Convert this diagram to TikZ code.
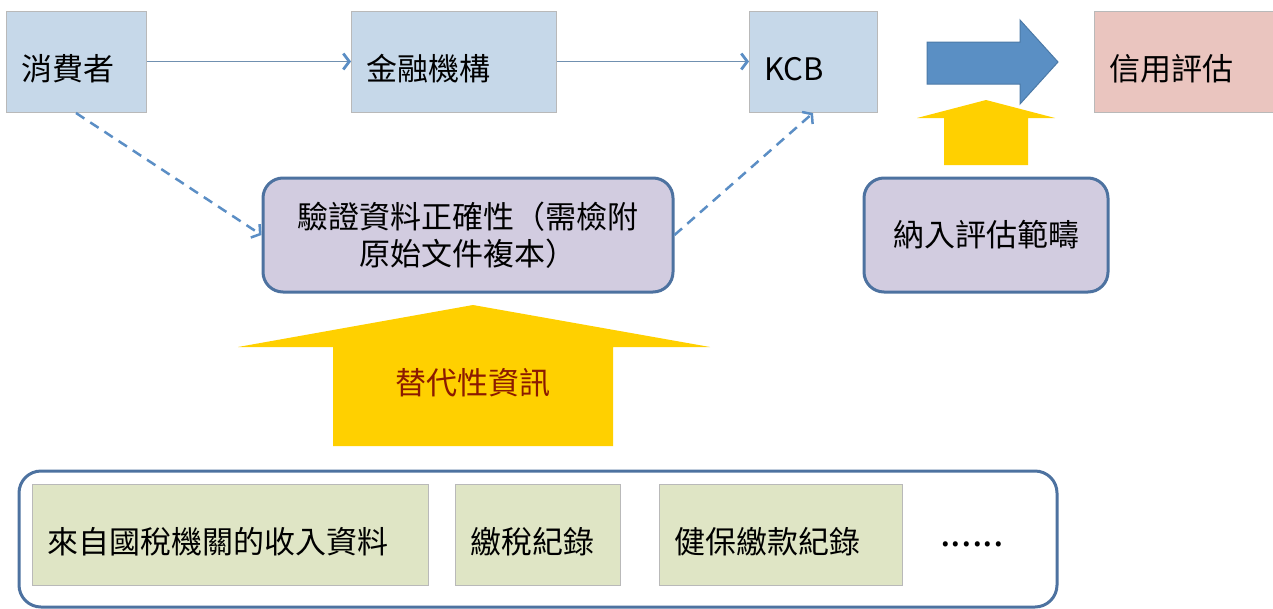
\documentclass[tikz,border=0pt]{standalone}
\usepackage{fontspec}
\newfontfamily\cjk{Noto Sans CJK TC}
\usetikzlibrary{arrows.meta}
\definecolor{topblue}{HTML}{C6D8E9}
\definecolor{pinkbox}{HTML}{EAC5BF}
\definecolor{lav}{HTML}{D2CCE0}
\definecolor{lavborder}{HTML}{4D72A0}
\definecolor{greenbox}{HTML}{DFE5C5}
\definecolor{arryellow}{HTML}{FFD000}
\definecolor{arrblue}{HTML}{5A8FC4}
\definecolor{conblue}{HTML}{5B8EC5}
\definecolor{conline}{HTML}{7090B0}
\definecolor{darkred}{HTML}{8B1A00}
\begin{document}
\begin{tikzpicture}[x=1pt,y=-1pt,
  every node/.style={font=\cjk\fontsize{31}{37}\selectfont},
  tbox/.style={draw=gray!55, line width=0.8pt, fill=topblue, minimum height=101pt, inner xsep=15pt, text height=43pt, text depth=4.5pt, align=left, anchor=west},
  rbox/.style={draw=lavborder, line width=3pt, fill=lav, rounded corners=20pt, align=center},
  gbox/.style={draw=gray!55, line width=0.8pt, fill=greenbox, minimum height=101pt, inner xsep=15pt, text height=43pt, text depth=4.5pt, align=left, anchor=west},
  solidcon/.style={draw=conline, line width=1.3pt, -{Straight Barb[length=6pt,width=16pt,line width=2.8pt,color=conblue]}},
  dashcon/.style={draw=conblue, line width=2.5pt, dash pattern=on 10pt off 7pt, -{Straight Barb[length=6pt,width=16pt]}}
]
\useasboundingbox (0,0) rectangle (1273,608);
% top row
\node[tbox, text width=110pt] (cons) at (6,61.5) {消費者};
\node[tbox, text width=175pt] (fin) at (351,61.5) {金融機構};
\node[tbox, text width=98pt] (kcb) at (749,61.5) {KCB};
\node[tbox, fill=pinkbox, text width=149pt] (credit) at (1094,61.5) {信用評估};
\draw[solidcon] (cons.east) -- (fin.west);
\draw[solidcon] (fin.east) -- (kcb.west);
% blue big arrow
\draw[fill=arrblue, draw=arrblue!85!black, line width=1pt]
  (927,42) -- (1020,42) -- (1020,20) -- (1058,62) -- (1020,104) -- (1020,84) -- (927,84) -- cycle;
% rounded boxes
\node[rbox, minimum width=410pt, minimum height=114pt, inner sep=4pt] (verify) at (468,235) {驗證資料正確性（需檢附\\原始文件複本）};
\node[rbox, minimum width=244pt, minimum height=114pt] (incl) at (986,235) {納入評估範疇};
\coordinate (cstart) at (76,113);
\coordinate (kend) at (813,113);
\draw[dashcon] (cstart) -- (verify.west);
\draw[dashcon] (verify.east) -- (kend);
% small yellow arrow
\fill[arryellow] (944,165) -- (944,118) -- (917,118) -- (986,100) -- (1055,118) -- (1028,118) -- (1028,165) -- cycle;
% big yellow arrow
\fill[arryellow] (333,446) -- (333,347) -- (238,347) -- (473,305) -- (710,347) -- (613,347) -- (613,446) -- cycle;
\node[text=darkred] (alt) at (473,383) {替代性資訊};
% bottom container
\node[draw=lavborder, line width=3pt, fill=white, rounded corners=22pt, minimum width=1038pt, minimum height=136pt] (cont) at (538,539) {};
\node[gbox, text width=366pt] (g1) at (32,534.5) {來自國稅機關的收入資料};
\node[gbox, text width=135pt] (g2) at (455,534.5) {繳稅紀錄};
\node[gbox, text width=213pt] (g3) at (659,534.5) {健保繳款紀錄};
\node[font=\cjk\fontsize{38}{40}\selectfont] (dots) at (972,544) {......};
\end{tikzpicture}
\end{document}
